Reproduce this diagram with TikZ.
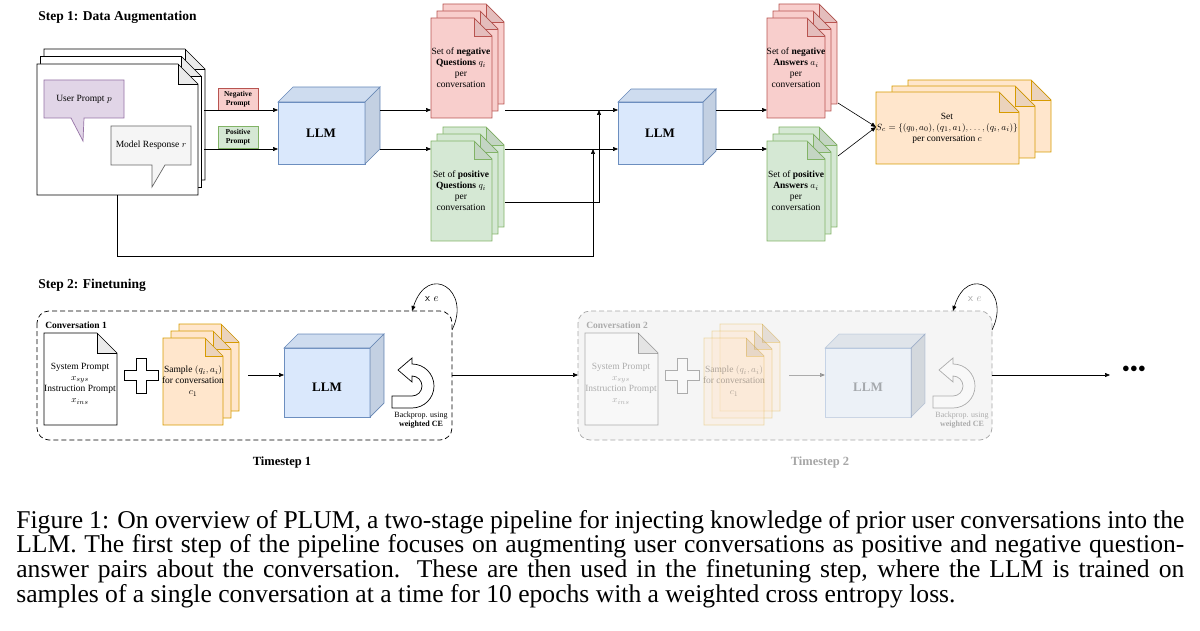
\documentclass[tikz,border=0pt]{standalone}
\usepackage{fontspec}
\setmainfont{Liberation Serif}
\usetikzlibrary{arrows.meta}
\definecolor{rf}{HTML}{F8CECC}\definecolor{rs}{HTML}{B85450}
\definecolor{gf}{HTML}{D5E8D4}\definecolor{gs}{HTML}{82B366}
\definecolor{of}{HTML}{FFE6CC}\definecolor{os}{HTML}{D79B00}
\definecolor{bf}{HTML}{DAE8FC}\definecolor{bs}{HTML}{6C8EBF}
\definecolor{pf}{HTML}{E1D5E7}\definecolor{ps}{HTML}{9673A6}
\definecolor{qf}{HTML}{F5F5F5}\definecolor{qs}{HTML}{666666}
\newcommand{\dshape}[6]{%
 \draw[#1] (#2,#3) -- ({#4-#6},#3) -- (#4,{#3+#6}) -- (#4,#5) -- (#2,#5) -- cycle;
 \fill[black,opacity=0.08] ({#4-#6},#3) -- ({#4-#6},{#3+#6}) -- (#4,{#3+#6}) -- cycle;
 \draw[#1,fill=none] ({#4-#6},#3) -- ({#4-#6},{#3+#6}) -- (#4,{#3+#6});}
\newcommand{\dstack}[8]{%
 \dshape{#1}{#2+2*#7}{#3-2*#8}{#4+2*#7}{#5-2*#8}{#6}%
 \dshape{#1}{#2+#7}{#3-#8}{#4+#7}{#5-#8}{#6}%
 \dshape{#1}{#2}{#3}{#4}{#5}{#6}}
\newcommand{\cubeb}[6]{%
 \draw[#1] (#2,#3) rectangle (#4,#5);
 \draw[#1] (#2,#3) -- ({#2+#6},{#3-#6}) -- ({#4+#6},{#3-#6}) -- (#4,#3) -- cycle;
 \fill[black,opacity=0.05] (#2,#3) -- ({#2+#6},{#3-#6}) -- ({#4+#6},{#3-#6}) -- (#4,#3) -- cycle;
 \draw[#1] (#4,#3) -- ({#4+#6},{#3-#6}) -- ({#4+#6},{#5-#6}) -- (#4,#5) -- cycle;
 \fill[black,opacity=0.1] (#4,#3) -- ({#4+#6},{#3-#6}) -- ({#4+#6},{#5-#6}) -- (#4,#5) -- cycle;}
\newcommand{\backprop}[1]{%
 \draw[#1] (392,408) -- (412,408) arc[start angle=-90,end angle=90,radius=22pt] -- (412,358) -- (398,370) -- (412,382) -- (412,376) arc[start angle=90,end angle=-90,radius=10pt] -- (392,396) -- cycle;}
\newcommand{\convbox}{%
\dshape{fill=white}{44}{333}{117}{425}{20}
\node[t] at (80,384) {System Prompt\\$x_{sys}$\\Instruction Prompt\\$x_{ins}$};
\draw[fill=white] (136,358) -- (146,358) -- (146,370) -- (158,370) -- (158,380) -- (146,380) -- (146,393) -- (136,393) -- (136,380) -- (124,380) -- (124,370) -- (136,370) -- cycle;
\dstack{fill=of,draw=os}{163}{338}{223}{425}{18}{8}{7}
\node[t] at (193,381) {Sample $(q_i,a_i)$\\for conversation\\$c_1$};
\cubeb{fill=bf,draw=bs}{284}{348}{370}{417}{14}
\backprop{fill=white}
\node[font=\fontsize{8}{9.5}\selectfont,align=center,inner sep=0pt] at (421,420) {Backprop. using\\\textbf{weighted CE}};}
\begin{document}
\begin{tikzpicture}[x=1pt,y=-1pt,line width=0.7pt,
  arr/.style={-{Triangle[length=5pt,width=4pt]},line width=0.6pt},
  t/.style={font=\fontsize{9.5}{11}\selectfont,align=center,inner sep=0pt},
  sm/.style={font=\bfseries\fontsize{7.5}{8.5}\selectfont,align=center,inner sep=0pt},
  hd/.style={font=\bfseries\fontsize{13.5}{15}\selectfont,anchor=west,inner sep=0pt},
  llm/.style={font=\bfseries\fontsize{13}{15}\selectfont}]
\useasboundingbox (0,0) rectangle (1200,631);
% ---------- Step 1
\node[hd] (s1) at (38,17) {Step 1: Data Augmentation};
\dstack{fill=white}{37}{64}{198}{195}{20}{3.5}{7.5}
\draw[fill=pf,draw=ps] (44,80) -- (124,80) -- (124,118) -- (84,118) -- (83,141) -- (71,118) -- (44,118) -- cycle;
\node[t] (up) at (84,99) {User Prompt $p$};
\draw[fill=qf,draw=qs] (111,126) -- (191,126) -- (191,165) -- (165,165) -- (152,187) -- (152,165) -- (111,165) -- cycle;
\node[t] (mr) at (151,145) {Model Response $r$};
\draw[fill=rf,draw=rs] (218,88) rectangle (258,110);
\node[sm] (np) at (238,99) {Negative\\Prompt};
\draw[fill=gf,draw=gs] (218,126) rectangle (258,148);
\node[sm] (pp) at (238,137) {Positive\\Prompt};
\cubeb{fill=bf,draw=bs}{278}{102}{365}{164}{15}
\node[llm] (llm1) at (321,133) {LLM};
\coordinate (d1) at (204,110); \coordinate (d2) at (204,149);
\coordinate (l1a) at (278,110); \coordinate (l1b) at (278,149);
\draw[arr] (d1) -- (l1a); \draw[arr] (d2) -- (l1b);
\dstack{fill=rf,draw=rs}{431}{18}{492}{118}{18}{6}{7}
\node[t] (nq) at (461,68) {Set of \textbf{negative}\\\textbf{Questions} $q_i$\\per\\conversation};
\dstack{fill=gf,draw=gs}{431}{141}{492}{241}{18}{6}{7}
\node[t] (pq) at (461,191) {Set of \textbf{positive}\\\textbf{Questions} $q_i$\\per\\conversation};
\coordinate (l1o1) at (380,110); \coordinate (l1o2) at (380,149);
\coordinate (nqi) at (431,110); \coordinate (pqi) at (431,149);
\draw[arr] (l1o1) -- (nqi); \draw[arr] (l1o2) -- (pqi);
\cubeb{fill=bf,draw=bs}{618}{102}{703}{164}{13}
\node[llm] (llm2) at (660,133) {LLM};
\coordinate (nqo) at (505,110); \coordinate (pqo) at (505,149);
\coordinate (l2a) at (618,110); \coordinate (l2b) at (618,149);
\draw[arr] (nqo) -- (l2a); \draw[arr] (pqo) -- (l2b);
\coordinate (pqo2) at (505,202); \coordinate (j1) at (599,110);
\draw[arr] (pqo2) -- (599,202) -- (j1);
\coordinate (db) at (117,195); \coordinate (j2) at (593,149);
\draw[arr] (db) -- (117,256) -- (593,256) -- (j2);
\dstack{fill=rf,draw=rs}{767}{18}{825}{118}{18}{6}{7}
\node[t] (na) at (796,68) {Set of \textbf{negative}\\\textbf{Answers} $a_i$\\per\\conversation};
\dstack{fill=gf,draw=gs}{767}{141}{825}{241}{18}{6}{7}
\node[t] (pa) at (796,191) {Set of \textbf{positive}\\\textbf{Answers} $a_i$\\per\\conversation};
\coordinate (l2o1) at (716,110); \coordinate (l2o2) at (716,149);
\coordinate (nai) at (767,110); \coordinate (pai) at (767,149);
\draw[arr] (l2o1) -- (nai); \draw[arr] (l2o2) -- (pai);
\dstack{fill=of,draw=os}{876}{92}{1019}{164}{20}{16}{6}
\node[t] (set) at (947,128) {Set\\$S_c=\{(q_0,a_0),(q_1,a_1),\ldots,(q_i,a_i)\}$\\per conversation $c$};
\coordinate (nao) at (838,103); \coordinate (pao) at (838,156); \coordinate (si) at (876,127);
\draw[arr] (nao) -- (si); \draw[arr] (pao) -- (si);
% ---------- Step 2
\node[hd] (s2) at (38,285) {Step 2: Finetuning};
\draw[dash pattern=on 5pt off 3pt,rounded corners=12pt] (37,311) rectangle (452,440);
\node[font=\bfseries\fontsize{9.5}{11}\selectfont,anchor=west,inner sep=0pt] (c1) at (45,325) {Conversation 1};
\convbox
\node[llm] (llm3) at (327,387) {LLM};
\coordinate (sao) at (248,375); \coordinate (l3i) at (284,375);
\draw[arr] (sao) -- (l3i);
\coordinate (lp1) at (452,330); \coordinate (lp2) at (412,311);
\draw[arr] (lp1) .. controls (472,290) and (428,262) .. (lp2);
\node[font=\sffamily\fontsize{11}{13}\selectfont] (xe1) at (432,299) {x $e$};
\node[font=\bfseries\fontsize{12.5}{14}\selectfont] (ts1) at (282,462) {Timestep 1};
\coordinate (b1o) at (452,375); \coordinate (b2i) at (578,375);
\draw[arr] (b1o) -- (b2i);
% conversation 2 faded
\draw[fill=qf,draw=black!35,dash pattern=on 5pt off 3pt,rounded corners=12pt] (578,311) rectangle (992,440);
\begin{scope}[xshift=541pt,opacity=0.3]
\node[font=\bfseries\fontsize{9.5}{11}\selectfont,anchor=west,inner sep=0pt] (c2) at (45,325) {Conversation 2};
\convbox
\node[llm] (llm4) at (327,387) {LLM};
\coordinate (sao2) at (248,375); \coordinate (l4i) at (284,375);
\draw[arr] (sao2) -- (l4i);
\end{scope}
\coordinate (lp3) at (992,330); \coordinate (lp4) at (953,311);
\draw[arr] (lp3) .. controls (1012,290) and (968,262) .. (lp4);
\node[font=\sffamily\fontsize{11}{13}\selectfont,text=black!35] (xe2) at (975,299) {x $e$};
\node[font=\bfseries\fontsize{12.5}{14}\selectfont,text=black!35] (ts2) at (820,462) {Timestep 2};
\coordinate (b2o) at (992,375); \coordinate (dots) at (1110,375);
\draw[arr] (b2o) -- (dots);
\node[font=\bfseries\fontsize{14}{16}\selectfont] (dd) at (1134,369) {$\bullet\!\bullet\!\bullet$};
% caption
\node[anchor=north west,inner sep=0pt,text width=1168pt,align=justify,font=\fontsize{25.6}{23.3}\selectfont] (cap) at (16,510)
{Figure 1: On overview of PLUM, a two-stage pipeline for injecting knowledge of prior user conversations into the LLM. The first step of the pipeline focuses on augmenting user conversations as positive and negative question-answer pairs about the conversation. These are then used in the finetuning step, where the LLM is trained on samples of a single conversation at a time for 10 epochs with a weighted cross entropy loss.};
\end{tikzpicture}
\end{document}
